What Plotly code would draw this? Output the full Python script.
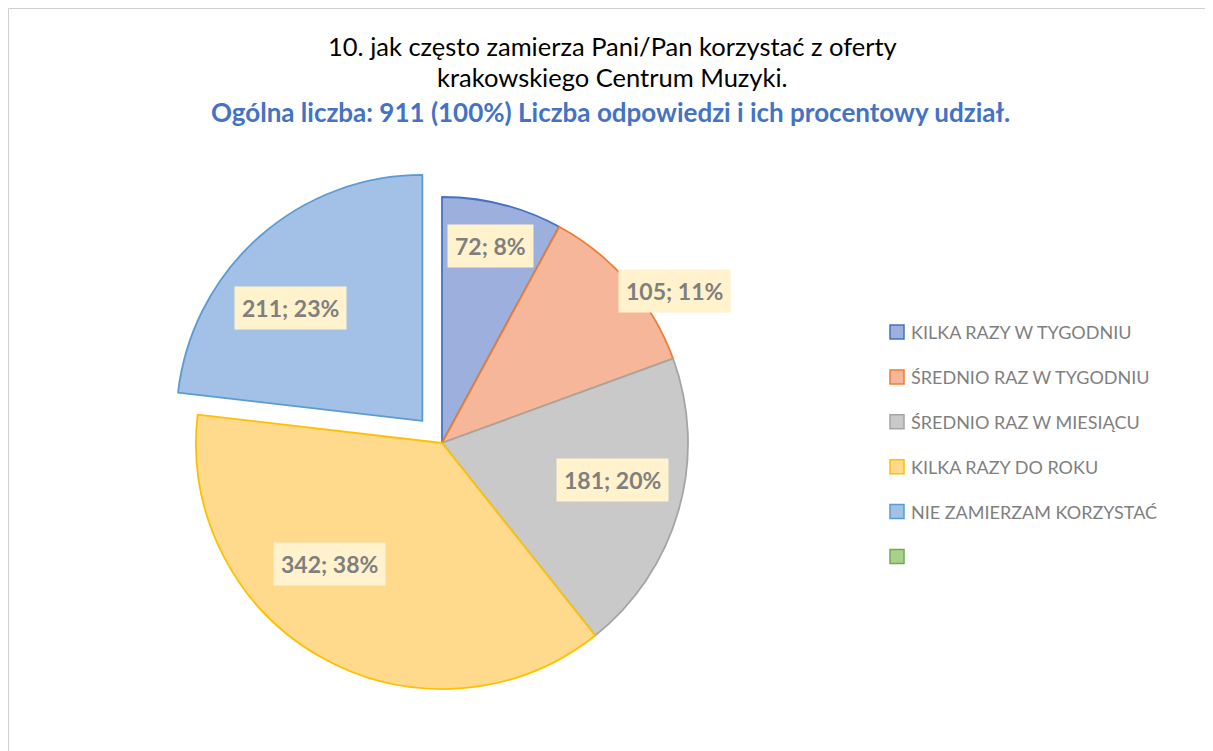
import math
import plotly.graph_objects as go

# ---- data ----
categories = ["KILKA RAZY W TYGODNIU", "ŚREDNIO RAZ W TYGODNIU", "ŚREDNIO RAZ W MIESIĄCU",
              "KILKA RAZY DO ROKU", "NIE ZAMIERZAM KORZYSTAĆ"]
values = [72, 105, 181, 342, 211]
percent_labels = ["8%", "11%", "20%", "38%", "23%"]
extra_legend = [""]  # empty sixth legend entry

title_line1 = "10. jak często zamierza Pani/Pan korzystać z oferty"
title_line2 = "krakowskiego Centrum Muzyki."
subtitle = "Ogólna liczba: 911 (100%) Liczba odpowiedzi i ich procentowy udział."

# ---- style ----
W, H = 1213, 751
OFF = 8  # page body margin
fill_colors = ["#9DAFDD", "#F5B699", "#C9C9C9", "#FFD98C", "#A3C1E6", "#A9D18E"]
line_colors = ["#4472C4", "#ED7D31", "#A5A5A5", "#FFC000", "#5B9BD5", "#70AD47"]
pulls = [0, 0, 0, 0, 0.12]
CX, CY, R = 442 - OFF, 443 - OFF, 246  # pixel geometry of pie (figure coords)
FONT = "Lato"


def px2x(px):
    return (px - OFF) / W


def py2y(py):
    return 1 - (py - OFF) / H


maxpull = max(pulls)
half = R * (1 + maxpull)
dom_x = [(CX - half) / W, (CX + half) / W]
dom_y = [1 - (CY + half) / H, 1 - (CY - half) / H]

fig = go.Figure(go.Pie(
    labels=categories, values=values, sort=False, direction="clockwise", rotation=0,
    pull=pulls, textinfo="none", hoverinfo="label+value+percent",
    marker=dict(colors=fill_colors[:len(values)],
                line=dict(color=line_colors[:len(values)], width=1.8)),
    domain=dict(x=dom_x, y=dom_y), showlegend=False,
))

annotations = []
# title lines
annotations.append(dict(text=title_line1, x=px2x(612), y=py2y(46), xref="paper", yref="paper",
                        showarrow=False, xanchor="center", yanchor="middle",
                        font=dict(family=FONT, size=25.5, color="#000000")))
annotations.append(dict(text=title_line2, x=px2x(612), y=py2y(77), xref="paper", yref="paper",
                        showarrow=False, xanchor="center", yanchor="middle",
                        font=dict(family=FONT, size=25.5, color="#000000")))
annotations.append(dict(text="<b>" + subtitle + "</b>", x=px2x(610), y=py2y(112), xref="paper", yref="paper",
                        showarrow=False, xanchor="center", yanchor="middle",
                        font=dict(family=FONT, size=26, color="#4472C4")))

# data labels
label_rf = [0.824, 1.13, 0.711, 0.673, 0.705]
label_da = [-0.5, 7.7, -3.5, 13.9, -7.6]
total = sum(values)
cum = 0
for i, v in enumerate(values):
    a0 = cum / total * 360
    cum += v
    a1 = cum / total * 360
    mid = (a0 + a1) / 2
    pr = pulls[i] * R
    pcx = CX + pr * math.sin(math.radians(mid))
    pcy = CY - pr * math.cos(math.radians(mid))
    ang = math.radians(mid + label_da[i])
    px = pcx + label_rf[i] * R * math.sin(ang)
    py = pcy - label_rf[i] * R * math.cos(ang)
    annotations.append(dict(text=f"<b>{v}; {percent_labels[i]}</b>", x=px / W, y=1 - py / H,
                            xref="paper", yref="paper", showarrow=False,
                            xanchor="center", yanchor="middle", bgcolor="#FFF2CC", borderpad=7,
                            font=dict(family=FONT, size=23, color="#7F7F7F")))

# manual legend
shapes = []
legend_labels = categories + extra_legend
for i, lab in enumerate(legend_labels):
    yc = 332 + i * 44.9
    shapes.append(dict(type="rect", xref="paper", yref="paper",
                       x0=px2x(890), x1=px2x(904), y0=py2y(yc + 7), y1=py2y(yc - 7),
                       fillcolor=fill_colors[i], line=dict(color=line_colors[i], width=1.5)))
    if lab:
        annotations.append(dict(text=lab, x=px2x(909), y=py2y(yc), xref="paper", yref="paper",
                                showarrow=False, xanchor="left", yanchor="middle",
                                font=dict(family=FONT, size=18, color="#7F7F7F")))

# chart border (top and left visible)
shapes.append(dict(type="line", xref="paper", yref="paper", x0=px2x(8.5), x1=1, y0=py2y(8.5), y1=py2y(8.5),
                   line=dict(color="#D0D0D0", width=1)))
shapes.append(dict(type="line", xref="paper", yref="paper", x0=px2x(8.5), x1=px2x(8.5), y0=0, y1=py2y(8.5),
                   line=dict(color="#D0D0D0", width=1)))

fig.update_layout(width=W, height=H, margin=dict(l=0, r=0, t=0, b=0),
                  paper_bgcolor="white", plot_bgcolor="white",
                  annotations=annotations, shapes=shapes, showlegend=False)
fig.write_html("out.html")
